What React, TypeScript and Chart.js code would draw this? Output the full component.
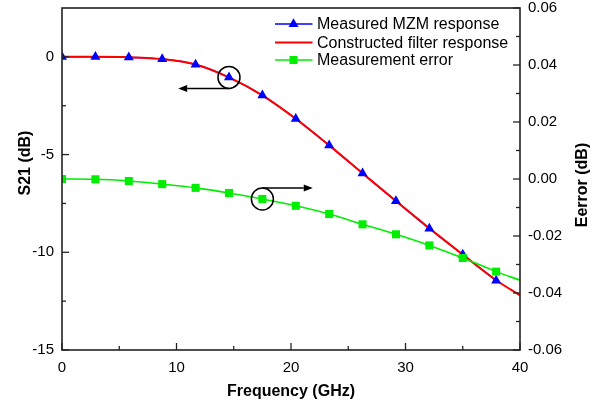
import React, { useEffect, useRef } from "react";
import { Chart, registerables } from "chart.js";

Chart.register(...registerables);

// ---- data ----
const frequencyGHz = [0, 2.917, 5.833, 8.75, 11.667, 14.583, 17.5, 20.417, 23.333, 26.25, 29.167, 32.083, 35, 37.917];
const measuredS21 = [0, 0, -0.02, -0.11, -0.39, -1.05, -1.97, -3.17, -4.53, -5.96, -7.38, -8.79, -10.12, -11.45];
const constructedFreq = [0, 2.917, 5.833, 8.75, 11.667, 14.583, 17.5, 20.417, 23.333, 26.25, 29.167, 32.083, 35, 37.917, 40];
const constructedS21 = [0, 0, -0.02, -0.11, -0.39, -1.05, -1.97, -3.17, -4.53, -5.96, -7.38, -8.77, -10.12, -11.43, -12.2];
const errorFreq = [0, 2.917, 5.833, 8.75, 11.667, 14.583, 17.5, 20.417, 23.333, 26.25, 29.167, 32.083, 35, 37.917, 40];
const measurementError = [0, -0.0001, -0.0007, -0.0018, -0.0031, -0.0049, -0.007, -0.0094, -0.0123, -0.0159, -0.0194, -0.0233, -0.0277, -0.0325, -0.0355];

const xTicks = [0, 10, 20, 30, 40];
const s21Ticks = [-15, -10, -5, 0];
const errorTicks = [-0.06, -0.04, -0.02, 0, 0.02, 0.04, 0.06];

const legendLabels = ["Measured MZM response", "Constructed filter response", "Measurement error"];

// annotation anchors (data units)
const circleS21Index = 5;
const arrowS21ToGHz = 10.15;
const circleErrIndex = 6;
const arrowErrToGHz = 21.9;

const FONT = '"Liberation Sans", Arial, Helvetica, sans-serif';
const BLUE = "#0000ff";
const RED = "#ff0000";
const GREEN = "#00ee00";

function drawTriangle(ctx: CanvasRenderingContext2D, x: number, y: number, r: number) {
  ctx.beginPath();
  ctx.moveTo(x, y - r);
  ctx.lineTo(x + r * 0.866, y + r / 2);
  ctx.lineTo(x - r * 0.866, y + r / 2);
  ctx.closePath();
  ctx.fill();
}

function drawArrow(ctx: CanvasRenderingContext2D, x1: number, y: number, x2: number) {
  const dir = x2 > x1 ? 1 : -1;
  const head = 9;
  ctx.beginPath();
  ctx.moveTo(x1, y);
  ctx.lineTo(x2 - dir * head, y);
  ctx.stroke();
  ctx.beginPath();
  ctx.moveTo(x2, y);
  ctx.lineTo(x2 - dir * head, y - 3.5);
  ctx.lineTo(x2 - dir * head, y + 3.5);
  ctx.closePath();
  ctx.fill();
}

const decorPlugin = {
  id: "decor",
  afterDatasetsDraw(chart: any) {
    const { ctx, chartArea: a, scales } = chart;
    const sx = scales.x;
    const sl = scales.y;
    const sr = scales.y2;
    ctx.save();

    // frame
    ctx.strokeStyle = "#222";
    ctx.lineWidth = 1.6;
    ctx.strokeRect(a.left, a.top, a.right - a.left, a.bottom - a.top);

    const line = (x1: number, y1: number, x2: number, y2: number) => {
      ctx.beginPath();
      ctx.moveTo(x1, y1);
      ctx.lineTo(x2, y2);
      ctx.stroke();
    };
    const MAJ = 7;
    const MIN = 4;
    ctx.lineWidth = 1.3;
    xTicks.forEach((v, i) => {
      const p = sx.getPixelForValue(v);
      line(p, a.bottom, p, a.bottom - MAJ);
      if (i < xTicks.length - 1) {
        const m = sx.getPixelForValue((v + xTicks[i + 1]) / 2);
        line(m, a.bottom, m, a.bottom - MIN);
      }
    });
    s21Ticks.forEach((v, i) => {
      const p = sl.getPixelForValue(v);
      line(a.left, p, a.left + MAJ, p);
      const next = i < s21Ticks.length - 1 ? s21Ticks[i + 1] : v + 5;
      const m = sl.getPixelForValue((v + next) / 2);
      if (m > a.top + 2) line(a.left, m, a.left + MIN, m);
    });
    errorTicks.forEach((v, i) => {
      const p = sr.getPixelForValue(v);
      line(a.right, p, a.right - MAJ, p);
      if (i < errorTicks.length - 1) {
        const m = sr.getPixelForValue((v + errorTicks[i + 1]) / 2);
        line(a.right, m, a.right - MIN, m);
      }
    });

    // annotations: circles + arrows
    ctx.strokeStyle = "#000";
    ctx.fillStyle = "#000";
    ctx.lineWidth = 1.5;
    const R = 11;
    const c1x = sx.getPixelForValue(frequencyGHz[circleS21Index]);
    const c1y = sl.getPixelForValue(measuredS21[circleS21Index]);
    ctx.beginPath();
    ctx.arc(c1x, c1y, R, 0, Math.PI * 2);
    ctx.stroke();
    drawArrow(ctx, c1x, c1y + R, sx.getPixelForValue(arrowS21ToGHz));

    const c2x = sx.getPixelForValue(frequencyGHz[circleErrIndex]);
    const c2y = sr.getPixelForValue(measurementError[circleErrIndex]);
    ctx.beginPath();
    ctx.arc(c2x, c2y, R, 0, Math.PI * 2);
    ctx.stroke();
    drawArrow(ctx, c2x, c2y - R, sx.getPixelForValue(arrowErrToGHz));

    // legend
    const lx1 = 275;
    const lx2 = 312.5;
    const mx = 293.5;
    const rows = [24, 42.5, 60];
    const colors = [BLUE, RED, GREEN];
    ctx.font = `16px ${FONT}`;
    ctx.textBaseline = "middle";
    ctx.textAlign = "left";
    rows.forEach((ry, i) => {
      ctx.strokeStyle = colors[i];
      ctx.lineWidth = i === 1 ? 2 : 1.6;
      line(lx1, ry, lx2, ry);
      ctx.fillStyle = colors[i];
      if (i === 0) drawTriangle(ctx, mx, ry, 5.8);
      if (i === 2) ctx.fillRect(mx - 4, ry - 4, 8, 8);
      ctx.fillStyle = "#000";
      ctx.fillText(legendLabels[i], 317, ry + 1);
    });

    // axis titles
    ctx.fillStyle = "#000";
    ctx.font = `bold 16px ${FONT}`;
    ctx.textAlign = "center";
    ctx.textBaseline = "middle";
    ctx.fillText("Frequency (GHz)", (a.left + a.right) / 2, 392);
    ctx.save();
    ctx.translate(26, 163);
    ctx.rotate(-Math.PI / 2);
    ctx.fillText("S21 (dB)", 0, 0);
    ctx.restore();
    ctx.save();
    ctx.translate(583, 185);
    ctx.rotate(-Math.PI / 2);
    ctx.fillText("Eerror (dB)", 0, 0);
    ctx.restore();

    ctx.restore();
  },
};

const zeroPad = (s: any) => {
  s.paddingTop = 0;
  s.paddingBottom = 0;
  s.paddingLeft = 0;
  s.paddingRight = 0;
};

export default function App() {
  const ref = useRef<HTMLCanvasElement | null>(null);

  useEffect(() => {
    if (!ref.current) return;
    const tickFont = { family: FONT, size: 15 };
    const chart = new Chart(ref.current, {
      type: "line",
      data: {
        datasets: [
          {
            label: legendLabels[0] + " line",
            data: frequencyGHz.map((x, i) => ({ x, y: measuredS21[i] })),
            yAxisID: "y",
            borderColor: BLUE,
            borderWidth: 1.5,
            pointRadius: 0,
            cubicInterpolationMode: "monotone",
            order: 4,
          },
          {
            label: legendLabels[1],
            data: constructedFreq.map((x, i) => ({ x, y: constructedS21[i] })),
            yAxisID: "y",
            borderColor: RED,
            borderWidth: 2,
            pointRadius: 0,
            cubicInterpolationMode: "monotone",
            order: 3,
          },
          {
            label: legendLabels[0],
            data: frequencyGHz.map((x, i) => ({ x, y: measuredS21[i] })),
            yAxisID: "y",
            showLine: false,
            pointStyle: "triangle",
            pointRadius: 5.8,
            pointBackgroundColor: BLUE,
            pointBorderColor: BLUE,
            pointBorderWidth: 0,
            order: 2,
          },
          {
            label: legendLabels[2],
            data: errorFreq.map((x, i) => ({ x, y: measurementError[i] })),
            yAxisID: "y2",
            borderColor: GREEN,
            borderWidth: 1.6,
            cubicInterpolationMode: "monotone",
            pointStyle: "rect",
            pointRadius: errorFreq.map((_, i) => (i === errorFreq.length - 1 ? 0 : 5.7)),
            pointBackgroundColor: GREEN,
            pointBorderColor: GREEN,
            pointBorderWidth: 0,
            order: 1,
          },
        ],
      },
      options: {
        animation: false,
        responsive: false,
        events: [],
        layout: { padding: { top: 8, left: 0, right: 0, bottom: 0 } },
        plugins: { legend: { display: false }, tooltip: { enabled: false } },
        scales: {
          x: {
            type: "linear",
            position: "bottom",
            min: 0,
            max: 40,
            grid: { display: false, drawTicks: false },
            border: { display: false },
            ticks: { font: tickFont, color: "#000", padding: 9, callback: (v: any) => String(v) },
            afterBuildTicks: (s: any) => {
              s.ticks = xTicks.map((v) => ({ value: v }));
            },
            afterFit: (s: any) => {
              s.height = 58;
              zeroPad(s);
            },
          },
          y: {
            type: "linear",
            position: "left",
            min: -15,
            max: 2.5,
            grid: { display: false, drawTicks: false },
            border: { display: false },
            ticks: { font: tickFont, color: "#000", padding: 8, callback: (v: any) => String(v) },
            afterBuildTicks: (s: any) => {
              s.ticks = s21Ticks.map((v) => ({ value: v }));
            },
            afterFit: (s: any) => {
              s.width = 62;
              zeroPad(s);
            },
          },
          y2: {
            type: "linear",
            position: "right",
            min: -0.06,
            max: 0.06,
            grid: { display: false, drawTicks: false },
            border: { display: false },
            ticks: { font: tickFont, color: "#000", padding: 8, callback: (v: any) => Number(v).toFixed(2) },
            afterBuildTicks: (s: any) => {
              s.ticks = errorTicks.map((v) => ({ value: v }));
            },
            afterFit: (s: any) => {
              s.width = 86;
              zeroPad(s);
            },
          },
        },
      } as any,
      plugins: [decorPlugin],
    });
    return () => chart.destroy();
  }, []);

  return (
    <div style={{ position: "absolute", left: 0, top: 0, width: 606, height: 408, background: "#fff" }}>
      <canvas ref={ref} width={606} height={408} style={{ display: "block", width: 606, height: 408 }} />
    </div>
  );
}
